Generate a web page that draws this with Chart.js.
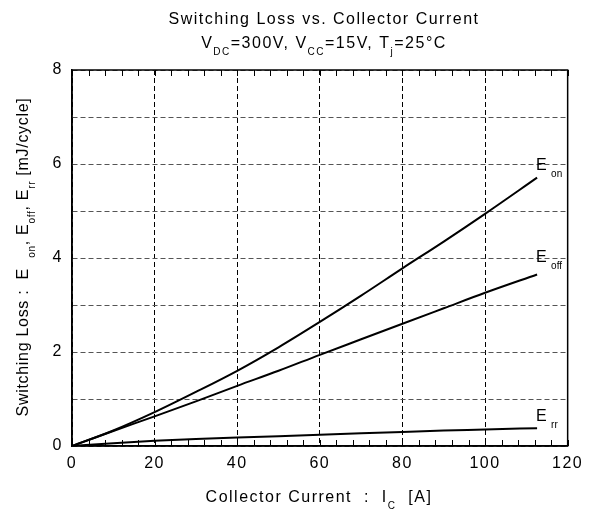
<!DOCTYPE html>
<html>
<head>
<meta charset="utf-8">
<script src="https://cdn.jsdelivr.net/npm/chart.js@4"></script>
<style>
  html, body { margin: 0; padding: 0; background: #fff; }
  #wrap { width: 589px; height: 512px; }
</style>
</head>
<body>
<div id="wrap"><canvas id="lossChart" width="589" height="512"></canvas></div>
<script>
// collector current [A] and switching energies [mJ/cycle]
const current = [0, 10, 20, 30, 40, 50, 60, 70, 80, 90, 100, 112.6];
const eOn  = [0, 0.33, 0.72, 1.15, 1.6, 2.1, 2.64, 3.2, 3.78, 4.35, 4.94, 5.71];
const eOff = [0, 0.32, 0.63, 0.95, 1.28, 1.6, 1.94, 2.27, 2.6, 2.93, 3.26, 3.65];
const eRr  = [0, 0.06, 0.11, 0.15, 0.18, 0.21, 0.24, 0.27, 0.30, 0.33, 0.35, 0.38];

const xTicks = [0, 20, 40, 60, 80, 100, 120];
const yTicks = [0, 2, 4, 6, 8];

const FONT = '"Liberation Sans", Arial, sans-serif';
Chart.defaults.color = '#000';
Chart.defaults.font.family = FONT;

function toPoints(ys) {
    return ys.map(function (y, i) { return { x: current[i], y: y }; });
}

// draws a run of text pieces, some of them as subscripts
function richText(ctx, parts, x, y, align, size) {
    const subSize = Math.round(size * 0.65);
    let total = 0;
    parts.forEach(function (p) {
        ctx.font = (p.sub ? subSize : size) + 'px ' + FONT;
        p.w = ctx.measureText(p.t).width;
        total += p.w;
    });
    let cx = align === 'center' ? x - total / 2 : x;
    parts.forEach(function (p) {
        ctx.font = (p.sub ? subSize : size) + 'px ' + FONT;
        ctx.fillText(p.t, cx, p.sub ? y + size * 0.45 : y);
        cx += p.w;
    });
}

const framePlugin = {
    id: 'frame',
    beforeDraw: function (chart) {
        chart.ctx.letterSpacing = '1.5px';
    },
    afterDatasetsDraw: function (chart) {
        const ctx = chart.ctx;
        const a = chart.chartArea;
        const xs = chart.scales.x;
        ctx.save();
        ctx.strokeStyle = '#000';
        ctx.lineWidth = 1;
        // minor ticks every 4 A, top and bottom, pointing inward
        for (let v = 0; v <= 120; v += 4) {
            const px = Math.round(xs.getPixelForValue(v)) + 0.5;
            ctx.beginPath();
            ctx.moveTo(px, a.bottom);
            ctx.lineTo(px, a.bottom - 6);
            ctx.moveTo(px, a.top);
            ctx.lineTo(px, a.top + 6);
            ctx.stroke();
        }
        ctx.lineWidth = 1.5;
        ctx.strokeRect(a.left, a.top, a.right - a.left, a.bottom - a.top);
        ctx.restore();
    },
    afterDraw: function (chart) {
        const ctx = chart.ctx;
        ctx.save();
        ctx.fillStyle = '#000';
        ctx.textBaseline = 'alphabetic';
        ctx.letterSpacing = '1.5px';

        // titles
        richText(ctx, [{ t: 'Switching Loss vs. Collector Current' }], 324, 24, 'center', 16);
        richText(ctx, [
            { t: 'V' }, { t: 'DC', sub: true }, { t: '=300V, V' }, { t: 'CC', sub: true },
            { t: '=15V, T' }, { t: 'j', sub: true }, { t: '=25°C' }
        ], 324, 48, 'center', 16);

        // x axis title
        richText(ctx, [
            { t: 'Collector Current  :  I' }, { t: 'C', sub: true }, { t: '  [A]' }
        ], 319, 502, 'center', 16);

        // y axis title, rotated
        ctx.save();
        ctx.translate(28, 257);
        ctx.rotate(-Math.PI / 2);
        ctx.letterSpacing = '0.7px';
        richText(ctx, [
            { t: 'Switching Loss :  E  ' }, { t: 'on', sub: true }, { t: ', E' },
            { t: 'off', sub: true }, { t: ', E' }, { t: 'rr', sub: true }, { t: ' [mJ/cycle]' }
        ], 0, 0, 'center', 16);
        ctx.restore();

        // curve names at the line ends
        ctx.letterSpacing = '0px';
        richText(ctx, [{ t: 'E ' }, { t: 'on', sub: true }], 536, 170, 'left', 16);
        richText(ctx, [{ t: 'E ' }, { t: 'off', sub: true }], 536, 262, 'left', 16);
        richText(ctx, [{ t: 'E ' }, { t: 'rr', sub: true }], 536, 421, 'left', 16);
        ctx.restore();
    }
};

const lineStyle = {
    borderColor: '#000',
    borderWidth: 2,
    pointRadius: 0,
    fill: false,
    cubicInterpolationMode: 'monotone'
};

new Chart(document.getElementById('lossChart').getContext('2d'), {
    type: 'line',
    data: {
        datasets: [
            Object.assign({ label: 'Eon', data: toPoints(eOn) }, lineStyle),
            Object.assign({ label: 'Eoff', data: toPoints(eOff) }, lineStyle),
            Object.assign({ label: 'Err', data: toPoints(eRr) }, lineStyle)
        ]
    },
    options: {
        responsive: false,
        animation: false,
        layout: { padding: { top: 70, right: 16, left: 0, bottom: 0 } },
        plugins: {
            legend: { display: false },
            tooltip: { enabled: false }
        },
        scales: {
            x: {
                type: 'linear',
                min: 0,
                max: 120,
                afterFit: function (scale) { scale.height = 66; },
                afterBuildTicks: function (scale) {
                    scale.ticks = xTicks.map(function (v) { return { value: v }; });
                },
                ticks: { padding: 8, font: { size: 16 }, maxRotation: 0 },
                grid: { color: '#000', lineWidth: 1, drawTicks: false },
                border: { display: true, color: '#000', width: 1.5, dash: [5, 3] }
            },
            y: {
                min: 0,
                max: 8,
                afterFit: function (scale) { scale.width = 72; },
                ticks: {
                    stepSize: 1,
                    padding: 9,
                    font: { size: 16 },
                    callback: function (v) { return yTicks.indexOf(v) >= 0 ? v : ''; }
                },
                grid: { color: '#555', lineWidth: 1, drawTicks: false },
                border: { display: true, color: '#000', width: 1.5, dash: [5, 3] }
            }
        }
    },
    plugins: [framePlugin]
});
</script>
</body>
</html>
